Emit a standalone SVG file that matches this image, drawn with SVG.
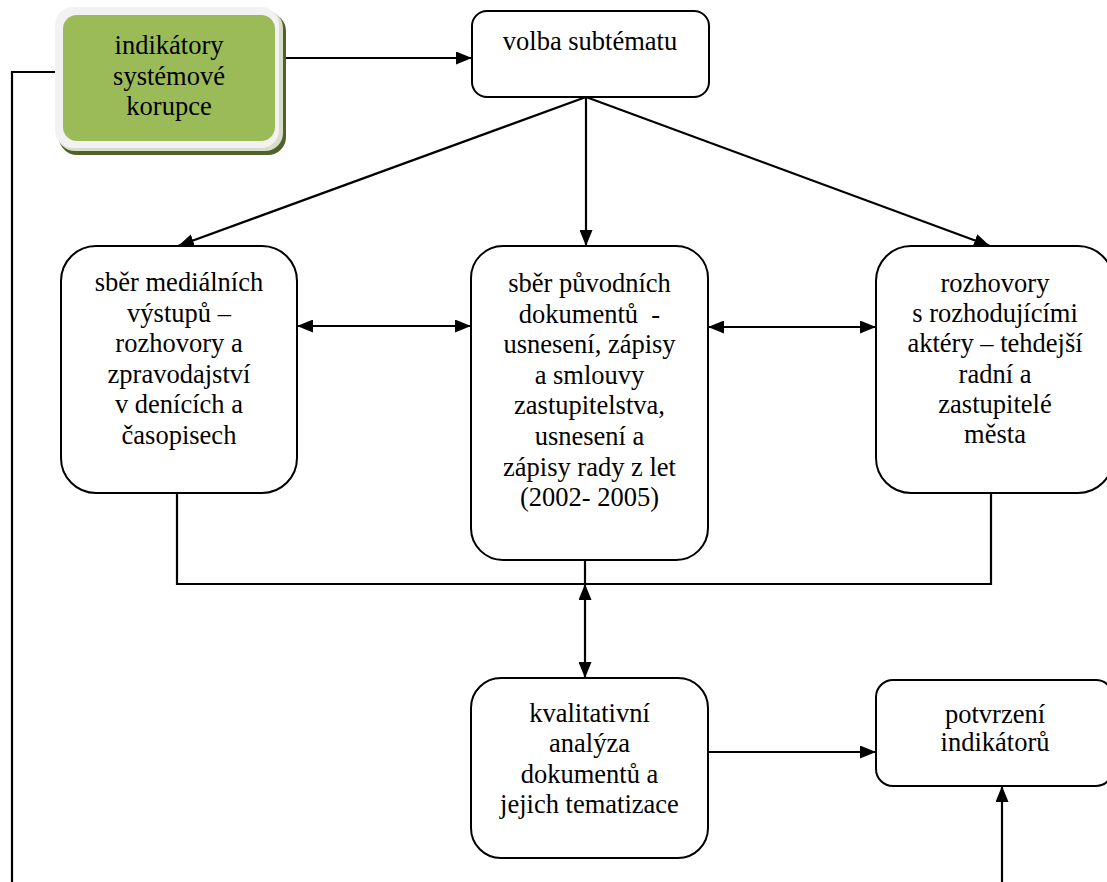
<svg xmlns="http://www.w3.org/2000/svg" width="1107" height="882" viewBox="0 0 1107 882">
<defs>
<style>
.box{fill:#ffffff;stroke:#000000;stroke-width:2}
.t{font-family:'Liberation Serif','DejaVu Serif',serif;font-size:26.5px;fill:#000000;text-anchor:middle}
.ln{fill:none;stroke:#000000;stroke-width:2.2}
</style>
<marker id="ah" viewBox="0 0 16 13" refX="16" refY="6.5" markerWidth="16" markerHeight="13" markerUnits="userSpaceOnUse" orient="auto-start-reverse">
<path d="M0,0 L16,6.5 L0,13 Z" fill="#000000"/>
</marker>
</defs>
<rect width="1107" height="882" fill="#ffffff"/>
<g id="connectors">
<polyline class="ln" points="59,72 12,72 12,882"/>
<line class="ln" x1="279" y1="58" x2="472" y2="58" marker-end="url(#ah)"/>
<line class="ln" x1="586" y1="97" x2="178" y2="246" marker-end="url(#ah)"/>
<line class="ln" x1="586" y1="97" x2="586" y2="246" marker-end="url(#ah)"/>
<line class="ln" x1="586" y1="97" x2="990" y2="246" marker-end="url(#ah)"/>
<line class="ln" x1="297" y1="326" x2="471" y2="326" marker-start="url(#ah)" marker-end="url(#ah)"/>
<line class="ln" x1="708" y1="327" x2="876" y2="327" marker-start="url(#ah)" marker-end="url(#ah)"/>
<polyline class="ln" points="177,493 177,584 991,584 991,493"/>
<line class="ln" x1="585" y1="560" x2="585" y2="584"/>
<line class="ln" x1="585" y1="584" x2="585" y2="678" marker-start="url(#ah)" marker-end="url(#ah)"/>
<line class="ln" x1="708" y1="752" x2="876" y2="752" marker-end="url(#ah)"/>
<line class="ln" x1="1002" y1="882" x2="1002" y2="786" marker-end="url(#ah)"/>
</g>
<g id="indikatory">
<rect x="59" y="13" width="227" height="142" rx="18" fill="#4F6228"/>
<rect x="57" y="10" width="226" height="141" rx="18" fill="#D8DCCB"/>
<rect x="55" y="7" width="224" height="141" rx="18" fill="#F2F2F2"/>
<rect x="63" y="15" width="212" height="126" rx="14" fill="#9BBB59"/>
<text class="t" x="169" y="54">indikátory</text>
<text class="t" x="169" y="84.5">systémové</text>
<text class="t" x="169" y="115">korupce</text>
</g>
<g id="volba">
<rect class="box" x="472" y="11" width="237" height="86" rx="15"/>
<text class="t" x="590" y="50">volba subtématu</text>
</g>
<g id="medialni">
<rect class="box" x="61" y="246" width="236" height="247" rx="35"/>
<text class="t" x="179" y="291">sběr mediálních</text>
<text class="t" x="179" y="321.6">výstupů –</text>
<text class="t" x="179" y="352.2">rozhovory a</text>
<text class="t" x="179" y="382.8">zpravodajství</text>
<text class="t" x="179" y="413.4">v denících a</text>
<text class="t" x="179" y="444">časopisech</text>
</g>
<g id="dokumenty">
<rect class="box" x="471" y="246" width="237" height="314" rx="32"/>
<text class="t" x="589.5" y="292">sběr původních</text>
<text class="t" x="589.5" y="322.6" xml:space="preserve">dokumentů  -</text>
<text class="t" x="589.5" y="353.2">usnesení, zápisy</text>
<text class="t" x="589.5" y="383.8">a smlouvy</text>
<text class="t" x="589.5" y="414.4">zastupitelstva,</text>
<text class="t" x="589.5" y="445">usnesení a</text>
<text class="t" x="589.5" y="475.6">zápisy rady z let</text>
<text class="t" x="589.5" y="506.2">(2002- 2005)</text>
</g>
<g id="rozhovory">
<rect class="box" x="876" y="246" width="237" height="247" rx="35"/>
<text class="t" x="995" y="292">rozhovory</text>
<text class="t" x="995" y="322.2">s rozhodujícími</text>
<text class="t" x="995" y="352.4">aktéry – tehdejší</text>
<text class="t" x="995" y="382.6">radní a</text>
<text class="t" x="995" y="412.8">zastupitelé</text>
<text class="t" x="995" y="443">města</text>
</g>
<g id="analyza">
<rect class="box" x="471" y="678" width="237" height="180" rx="30"/>
<text class="t" x="589.5" y="722">kvalitativní</text>
<text class="t" x="589.5" y="752.4">analýza</text>
<text class="t" x="589.5" y="782.8">dokumentů a</text>
<text class="t" x="589.5" y="813.2">jejich tematizace</text>
</g>
<g id="potvrzeni">
<rect class="box" x="876" y="680" width="237" height="106" rx="17"/>
<text class="t" x="995" y="723">potvrzení</text>
<text class="t" x="995" y="751">indikátorů</text>
</g>
</svg>
